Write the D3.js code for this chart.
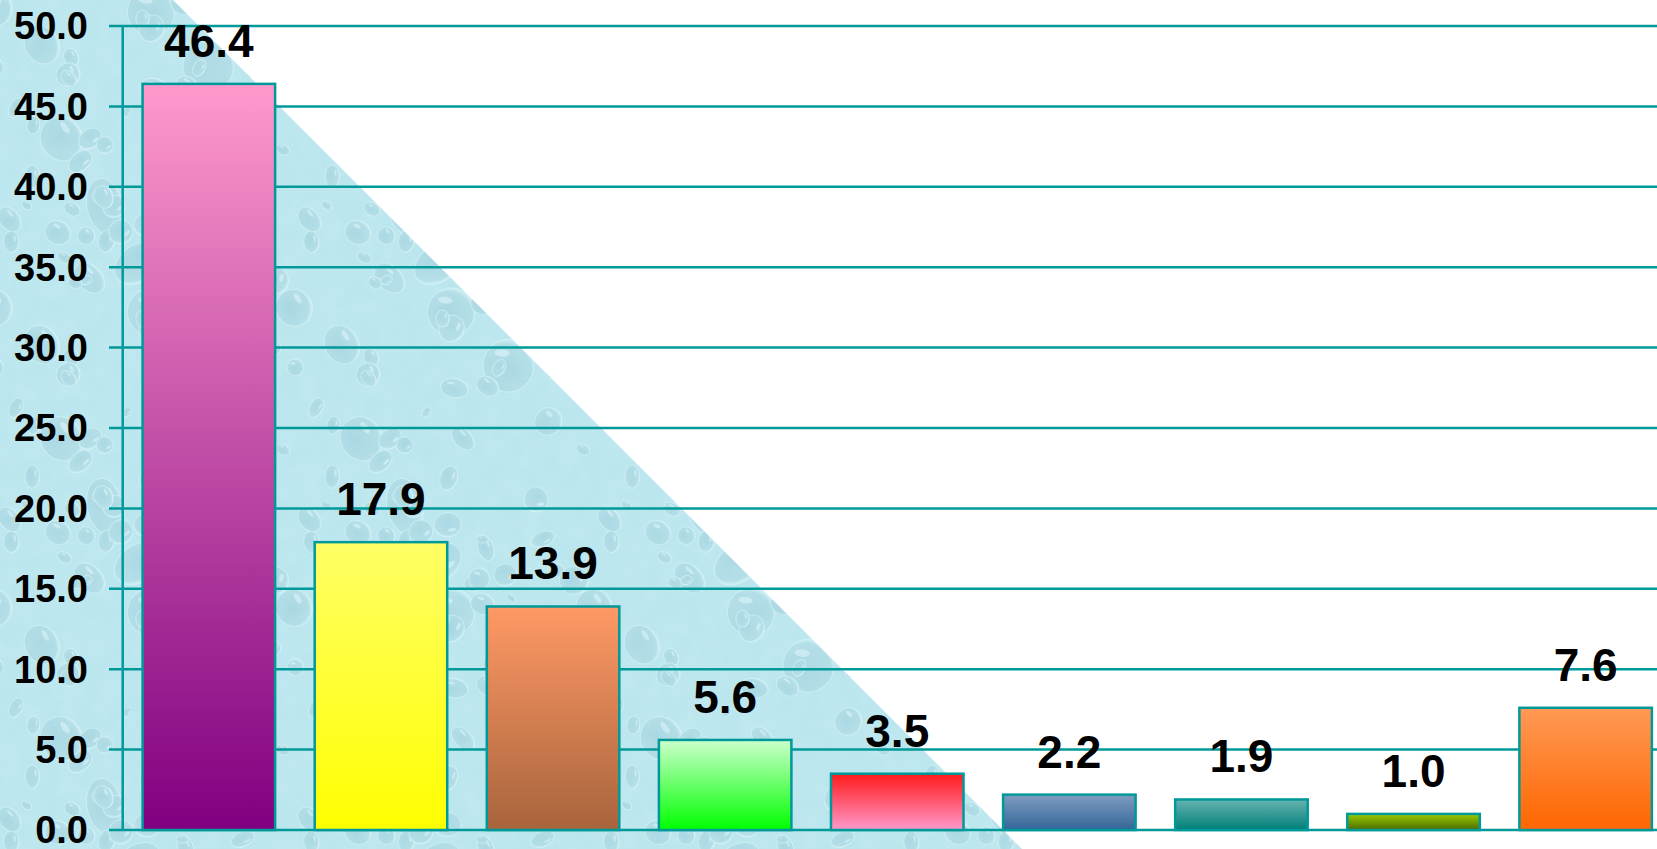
<!DOCTYPE html>
<html>
<head>
<meta charset="utf-8">
<script src="https://cdn.jsdelivr.net/npm/d3@7"></script>
<style>
  html, body { margin: 0; padding: 0; background: #ffffff; overflow: hidden; }
  svg { display: block; }
</style>
</head>
<body>
<svg id="chart" width="1657" height="849"></svg>
<script>
// ---- data ----
const categories = ["c1", "c2", "c3", "c4", "c5", "c6", "c7", "c8", "c9"];
const values = [46.4, 17.9, 13.9, 5.6, 3.5, 2.2, 1.9, 1.0, 7.6];
const tickValues = [0, 5, 10, 15, 20, 25, 30, 35, 40, 45, 50];
const gradTop = ["#ff99cc", "#ffff66", "#ff9966", "#ccffcc", "#ff1a1a", "#7f9cc0", "#66b3b0", "#99cc00", "#ff9955"];
const gradBottom = ["#800080", "#ffff00", "#a8643c", "#00ff00", "#ff99cc", "#336699", "#007f78", "#4d6a00", "#ff6600"];

const W = 1657, H = 849;
const svg = d3.select("#chart");
const defs = svg.append("defs");

// ---- water drop texture for the triangle ----
const T = 300;
const pat = defs.append("pattern")
  .attr("id", "drops").attr("patternUnits", "userSpaceOnUse")
  .attr("width", T).attr("height", T);
pat.append("rect").attr("width", T).attr("height", T).attr("fill", "#b9e5ed");
const dropGrad = defs.append("radialGradient").attr("id", "dropG")
  .attr("cx", "0.45").attr("cy", "0.6").attr("r", "0.6");
dropGrad.append("stop").attr("offset", "0").attr("stop-color", "#a6d6e1");
dropGrad.append("stop").attr("offset", "0.85").attr("stop-color", "#afdce6");
dropGrad.append("stop").attr("offset", "1").attr("stop-color", "#cdeff5");
const rnd = d3.randomLcg(0.4242);
for (let i = 0; i < 60; i++) {
  const cx = rnd() * T, cy = rnd() * T;
  const rx = 5 + rnd() * (i < 14 ? 24 : 9);
  const ry = rx * (0.6 + rnd() * 0.5);
  const rot = rnd() * 180;
  [-T, 0, T].forEach(ox => [-T, 0, T].forEach(oy => {
    const g = pat.append("g").attr("transform", `translate(${cx + ox},${cy + oy}) rotate(${rot})`);
    g.append("ellipse").attr("rx", rx).attr("ry", ry).attr("fill", "url(#dropG)")
      .attr("stroke", "#d6f2f7").attr("stroke-width", 1).attr("stroke-opacity", 0.6);
    g.append("ellipse").attr("cx", -rx * 0.3).attr("cy", -ry * 0.45)
      .attr("rx", rx * 0.3).attr("ry", ry * 0.14).attr("fill", "#def5f9").attr("opacity", 0.55);
  }));
}
const noise = defs.append("filter").attr("id", "noise");
noise.append("feTurbulence").attr("type", "fractalNoise").attr("baseFrequency", 0.05).attr("numOctaves", 2).attr("result", "t");
noise.append("feColorMatrix").attr("in", "t").attr("type", "matrix")
  .attr("values", "0 0 0 0 0.86  0 0 0 0 0.96  0 0 0 0 0.98  0 0 0 0.3 0").attr("result", "c");
noise.append("feComposite").attr("in", "c").attr("in2", "SourceGraphic").attr("operator", "in");

const tri = [[0, 0], [173, 0], [173 + H, H], [0, H]];
svg.append("path").attr("d", d3.line()(tri) + "Z").attr("fill", "url(#drops)");
svg.append("path").attr("d", d3.line()(tri) + "Z").attr("fill", "#ffffff").attr("filter", "url(#noise)").attr("opacity", 0.5);

// ---- scales ----
const x = d3.scaleBand().domain(categories).range([122.8, 1671.7]).paddingInner(0.23).paddingOuter(0.115);
const y = d3.scaleLinear().domain([0, 50]).range([830, 26]);

const teal = "#009999";

// gridlines (with tick stubs to the left of the axis)
svg.append("g").selectAll("line").data(tickValues).join("line")
  .attr("x1", 109).attr("x2", W)
  .attr("y1", d => y(d)).attr("y2", d => y(d))
  .attr("stroke", teal).attr("stroke-width", 2.5);

// y axis line
svg.append("line").attr("x1", 122.7).attr("x2", 122.7).attr("y1", y(50)).attr("y2", y(0))
  .attr("stroke", teal).attr("stroke-width", 2.5);

// axis labels via d3 axis
const yAxis = d3.axisLeft(y).tickValues(tickValues).tickFormat(d3.format(".1f")).tickSize(0).tickPadding(0);
const ag = svg.append("g").attr("transform", "translate(88,0)").call(yAxis);
ag.select(".domain").remove();
ag.selectAll("text")
  .attr("font-family", "'Liberation Sans', Arial, sans-serif")
  .attr("font-weight", "bold").attr("font-size", 38).attr("fill", "#000")
  .attr("dy", "0.34em");

// gradients
categories.forEach((c, i) => {
  const g = defs.append("linearGradient").attr("id", "g" + i)
    .attr("x1", 0).attr("y1", 0).attr("x2", 0).attr("y2", 1);
  g.append("stop").attr("offset", 0).attr("stop-color", gradTop[i]);
  g.append("stop").attr("offset", 1).attr("stop-color", gradBottom[i]);
});

// bars
svg.append("g").selectAll("rect").data(values).join("rect")
  .attr("x", (d, i) => x(categories[i]))
  .attr("width", x.bandwidth())
  .attr("y", d => y(d))
  .attr("height", d => y(0) - y(d))
  .attr("fill", (d, i) => `url(#g${i})`)
  .attr("stroke", teal).attr("stroke-width", 2.5);

// value labels
svg.append("g").selectAll("text").data(values).join("text")
  .attr("x", (d, i) => x(categories[i]) + x.bandwidth() / 2)
  .attr("y", d => y(d) - 27)
  .attr("text-anchor", "middle")
  .attr("font-family", "'Liberation Sans', Arial, sans-serif")
  .attr("font-weight", "bold").attr("font-size", 46).attr("fill", "#000")
  .text(d => d3.format(".1f")(d));
</script>
</body>
</html>
